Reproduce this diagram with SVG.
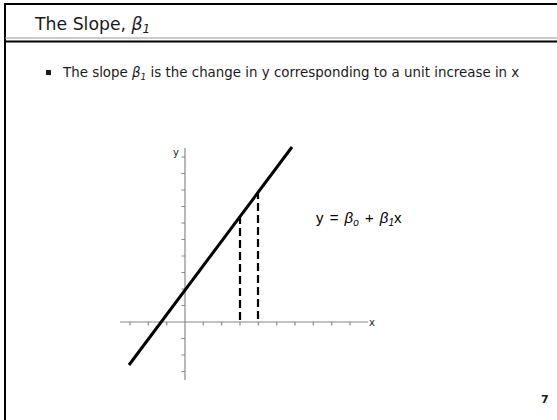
<svg xmlns="http://www.w3.org/2000/svg" width="557" height="420" viewBox="0 0 557 420">
<style>
.t{font-family:"DejaVu Sans","Liberation Sans",sans-serif;fill:#1a1a1a}
.eq{font-family:"Liberation Sans",Arial,sans-serif;fill:#000}
.ax{stroke:#888;stroke-width:1.2;fill:none}
.dash{stroke:#000;stroke-width:2.2;stroke-dasharray:8 4;fill:none}
</style>
<rect width="557" height="420" fill="#fff"/>
<g id="frame">
<line x1="4" y1="4" x2="557" y2="4" stroke="#000" stroke-width="2"/>
<line x1="5" y1="3" x2="5" y2="420" stroke="#000" stroke-width="2"/>
<line x1="5" y1="38" x2="557" y2="38" stroke="#999" stroke-width="1"/>
<line x1="5" y1="41.5" x2="557" y2="41.5" stroke="#000" stroke-width="2"/>
</g>
<g id="title">
<text class="t" x="35" y="29.5" font-size="17.3">The Slope, <tspan font-style="italic">β</tspan><tspan font-style="italic" font-size="12" dy="3">1</tspan></text>
</g>
<g id="bullet">
<rect x="46" y="70" width="5" height="5" fill="#1a1a1a"/>
<text class="t" x="63" y="77" font-size="13.4">The slope <tspan font-style="italic">β</tspan><tspan font-style="italic" font-size="9" dy="2.5">1</tspan><tspan dy="-2.5"> is the change in y corresponding to a unit increase in x</tspan></text>
</g>
<g id="axes">
<line class="ax" x1="185" y1="148" x2="185" y2="380"/>
<line class="ax" x1="120" y1="322" x2="368" y2="322"/>
<path class="ax" d="M181.5 157h3.5M181.5 173.5h3.5M181.5 190h3.5M181.5 206.5h3.5M181.5 223h3.5M181.5 239.5h3.5M181.5 256h3.5M181.5 272.5h3.5M181.5 289h3.5M181.5 305.5h3.5M181.5 338.5h3.5M181.5 355h3.5M181.5 371.5h3.5"/>
<path class="ax" d="M130 322v3.5M148.3 322v3.5M166.7 322v3.5M203.3 322v3.5M221.7 322v3.5M240 322v3.5M258.3 322v3.5M276.7 322v3.5M295 322v3.5M313.3 322v3.5M331.7 322v3.5M350 322v3.5"/>
<text class="t" x="173" y="156" font-size="10">y</text>
<text class="t" x="369" y="326" font-size="10">x</text>
</g>
<g id="connectors">
<line x1="129" y1="365" x2="292" y2="147" stroke="#000" stroke-width="3"/>
<line class="dash" x1="240" y1="216" x2="240" y2="322"/>
<line class="dash" x1="258" y1="191" x2="258" y2="322"/>
</g>
<g id="equation">
<text class="eq" x="316" y="223" font-size="15" word-spacing="2">y = <tspan font-style="italic">β</tspan><tspan font-style="italic" font-size="10" dy="2.5">o</tspan><tspan dy="-2.5"> + </tspan><tspan font-style="italic">β</tspan><tspan font-style="italic" font-size="10" dy="2.5">1</tspan><tspan dy="-2.5">x</tspan></text>
</g>
<g id="page">
<text class="t" x="541" y="403" font-size="11" font-weight="bold">7</text>
</g>
</svg>
